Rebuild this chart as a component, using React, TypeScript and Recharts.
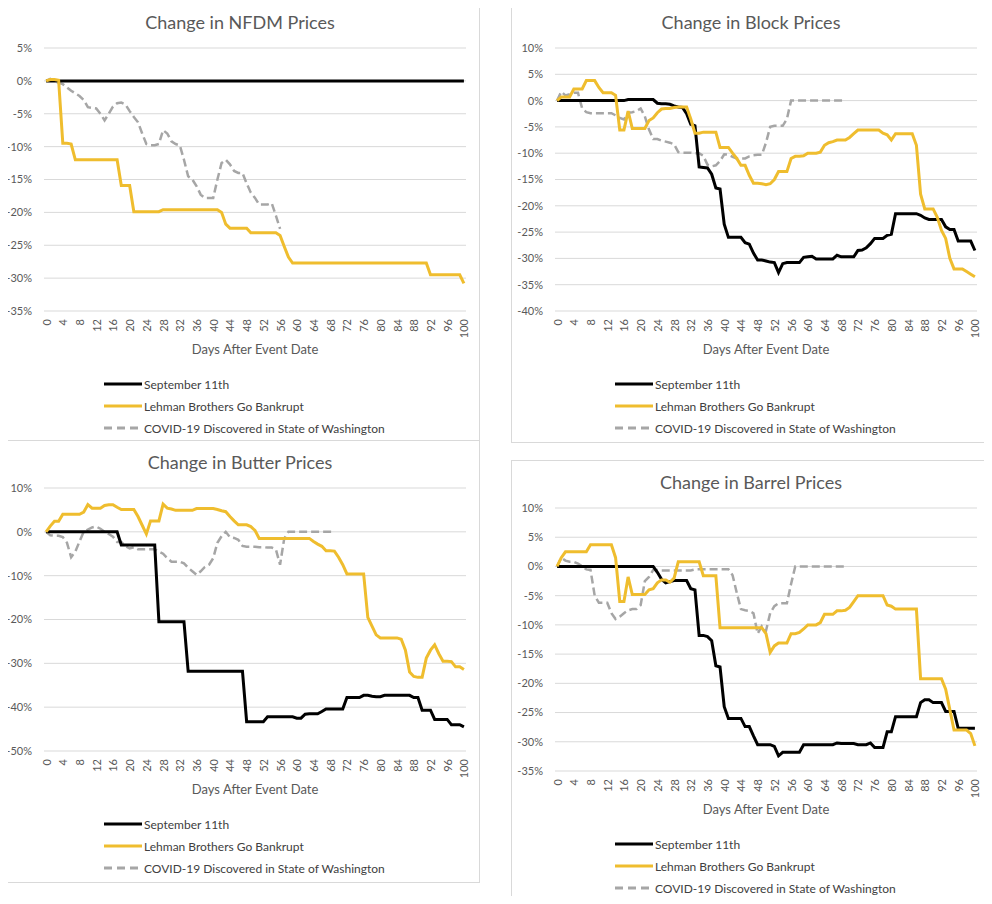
import React from 'react';
import { LineChart, Line, XAxis, YAxis, CartesianGrid, Legend, Label } from 'recharts';

const days = [0,1,2,3,4,5,6,7,8,9,10,11,12,13,14,15,16,17,18,19,20,21,22,23,24,25,26,27,28,29,30,31,32,33,34,35,36,37,38,39,40,41,42,43,44,45,46,47,48,49,50,51,52,53,54,55,56,57,58,59,60,61,62,63,64,65,66,67,68,69,70,71,72,73,74,75,76,77,78,79,80,81,82,83,84,85,86,87,88,89,90,91,92,93,94,95,96,97,98,99,100];
const xTicks = [0,4,8,12,16,20,24,28,32,36,40,44,48,52,56,60,64,68,72,76,80,84,88,92,96,100];
const seriesNames = ['September 11th', 'Lehman Brothers Go Bankrupt', 'COVID-19 Discovered in State of Washington'];
const seriesColors = ['#000000', '#EFBD2E', '#A6A6A6'];

// NFDM (% change)
const nfdmSep11 = [0,0,0,0,0,0,0,0,0,0,0,0,0,0,0,0,0,0,0,0,0,0,0,0,0,0,0,0,0,0,0,0,0,0,0,0,0,0,0,0,0,0,0,0,0,0,0,0,0,0,0,0,0,0,0,0,0,0,0,0,0,0,0,0,0,0,0,0,0,0,0,0,0,0,0,0,0,0,0,0,0,0,0,0,0,0,0,0,0,0,0,0,0,0,0,0,0,0,0,0,0];
const nfdmLehman = [0,0.2,0.2,0.1,-9.5,-9.5,-9.6,-12,-12,-12,-12,-12,-12,-12,-12,-12,-12,-12,-15.9,-15.9,-15.9,-19.9,-19.9,-19.9,-19.9,-19.9,-19.9,-19.9,-19.6,-19.6,-19.6,-19.6,-19.6,-19.6,-19.6,-19.6,-19.6,-19.6,-19.6,-19.6,-19.6,-19.6,-20,-21.8,-22.4,-22.4,-22.4,-22.4,-22.4,-23.1,-23.1,-23.1,-23.1,-23.1,-23.1,-23.1,-23.5,-25.2,-26.8,-27.7,-27.7,-27.7,-27.7,-27.7,-27.7,-27.7,-27.7,-27.7,-27.7,-27.7,-27.7,-27.7,-27.7,-27.7,-27.7,-27.7,-27.7,-27.7,-27.7,-27.7,-27.7,-27.7,-27.7,-27.7,-27.7,-27.7,-27.7,-27.7,-27.7,-27.7,-27.7,-27.7,-29.5,-29.5,-29.5,-29.5,-29.5,-29.5,-29.5,-29.5,-30.8];
const nfdmCovid = [0,0.3,0,-0.3,-0.5,-1.0,-1.5,-1.9,-2.3,-2.9,-4.0,-4.1,-4.2,-5.0,-6.0,-5.0,-3.9,-3.4,-3.3,-3.6,-4.6,-5.5,-6.3,-8.0,-9.6,-9.8,-9.8,-9.6,-7.5,-8.0,-9.2,-9.6,-9.8,-12.0,-14.5,-15.0,-16.0,-17.3,-17.8,-17.8,-17.8,-15.0,-12.5,-12.0,-12.7,-13.7,-14.0,-14.0,-15.6,-17.0,-17.8,-18.8,-18.8,-18.8,-18.6,-20.5,-22.5];

// Block
const blockSep11 = [0,0,0,0,0,0,0,0,0,0,0,0,0,0,0,0,0,0.2,0.2,0.2,0.2,0.2,0.2,0.2,-0.5,-0.6,-0.6,-0.7,-1.0,-1.2,-1.3,-2.5,-4.5,-4.8,-12.6,-12.7,-12.8,-14.0,-16.6,-16.8,-23.5,-26.0,-26.0,-26.0,-26.0,-27.0,-27.3,-29.0,-30.3,-30.3,-30.5,-30.7,-30.8,-32.7,-31.0,-30.8,-30.8,-30.8,-30.8,-29.8,-29.7,-29.6,-30.1,-30.1,-30.1,-30.1,-30.1,-29.4,-29.7,-29.7,-29.7,-29.7,-28.5,-28.4,-28.0,-27.2,-26.2,-26.2,-26.2,-25.6,-25.4,-21.5,-21.5,-21.5,-21.5,-21.5,-21.5,-21.8,-22.3,-22.6,-22.6,-22.6,-22.6,-24.0,-24.5,-24.5,-26.7,-26.7,-26.7,-26.7,-28.5];
const blockLehman = [0,0.7,0.7,0.7,2.2,2.2,2.2,3.8,3.8,3.8,2.5,1.5,1.5,1.5,1.0,-5.6,-5.6,-2.0,-5.3,-5.3,-5.3,-5.3,-3.8,-3.3,-2.3,-1.6,-1.5,-1.5,-1.3,-1.2,-1.2,-1.2,-3.5,-6.2,-6.2,-6.0,-6.0,-6.0,-6.0,-8.9,-8.9,-8.9,-10.0,-11.0,-12.3,-12.3,-14.2,-15.7,-15.7,-15.8,-16.0,-15.8,-15.0,-13.5,-13.5,-13.5,-11.0,-10.6,-10.6,-10.5,-10.0,-10.0,-10.0,-9.8,-8.5,-8.0,-7.8,-7.5,-7.5,-7.5,-7.0,-6.3,-5.6,-5.6,-5.6,-5.6,-5.6,-5.6,-6.2,-6.5,-7.5,-6.3,-6.3,-6.3,-6.3,-6.3,-8.5,-17.8,-20.6,-20.6,-20.6,-22.2,-24.7,-26.2,-30.0,-32.0,-32.0,-32.0,-32.5,-33.0,-33.5];
const blockCovid = [0,1.7,1.0,1.2,1.5,1.5,-1.5,-2.2,-2.4,-2.4,-2.4,-2.4,-2.4,-2.4,-2.8,-3.3,-3.6,-2.3,-2.2,-2.0,-1.5,-3.0,-5.5,-7.3,-7.3,-7.6,-7.8,-8.0,-8.3,-9.8,-9.9,-9.9,-9.9,-10.0,-10.0,-10.5,-12.2,-12.5,-12.3,-11.5,-10.2,-10.3,-10.7,-11.0,-11.0,-11.0,-10.6,-10.4,-10.3,-10.3,-8.0,-5.0,-4.8,-4.8,-4.8,-3.5,0,0,0,0,0,0,0,0,0,0,0,0,0,0];

// Butter
const butterSep11 = [0,0,0,0,0,0,0,0,0,0,0,0,0,0,0,0,0,0,-3.0,-3.0,-3.0,-3.0,-3.0,-3.0,-3.0,-3.0,-3.0,-20.5,-20.5,-20.5,-20.5,-20.5,-20.5,-20.5,-31.8,-31.8,-31.8,-31.8,-31.8,-31.8,-31.8,-31.8,-31.8,-31.8,-31.8,-31.8,-31.8,-31.8,-43.3,-43.3,-43.3,-43.3,-43.3,-42.2,-42.2,-42.2,-42.2,-42.2,-42.2,-42.2,-42.5,-42.5,-41.6,-41.5,-41.5,-41.5,-41.0,-40.4,-40.4,-40.4,-40.4,-40.4,-37.8,-37.8,-37.8,-37.8,-37.3,-37.3,-37.5,-37.6,-37.6,-37.3,-37.3,-37.3,-37.3,-37.3,-37.3,-37.3,-37.8,-37.8,-40.7,-40.7,-40.7,-42.8,-42.8,-42.8,-42.8,-44.0,-44.0,-44.0,-44.5];
const butterLehman = [0,1.3,2.4,2.4,4.0,4.0,4.0,4.0,4.0,4.5,6.2,5.4,5.4,5.4,6.0,6.2,6.2,5.6,5.1,5.1,5.1,5.1,3.5,1.5,-0.5,2.5,2.5,2.5,6.3,5.4,5.2,4.9,4.9,4.9,4.9,4.9,5.3,5.3,5.3,5.3,5.3,5.1,4.8,4.6,3.5,2.5,1.6,1.6,1.6,1.2,0.3,-1.5,-1.5,-1.5,-1.5,-1.5,-1.5,-1.5,-1.5,-1.5,-1.5,-1.5,-1.5,-1.5,-2.2,-2.8,-3.3,-4.3,-4.3,-4.4,-5.8,-7.5,-9.6,-9.6,-9.6,-9.6,-9.6,-19.5,-21.5,-23.5,-24.2,-24.2,-24.2,-24.2,-24.2,-24.5,-27.0,-32.0,-33.0,-33.2,-33.2,-28.8,-27.0,-25.8,-27.8,-29.5,-29.5,-29.6,-30.8,-30.8,-31.4];
const butterCovid = [0,-0.8,-0.9,-0.9,-1.2,-2.5,-5.8,-4.5,-2.2,0,0.5,1.0,1.2,0.7,0,-0.5,-1.1,-2.3,-2.3,-3.3,-3.8,-3.5,-4.0,-4.0,-4.0,-4.0,-4.0,-4.5,-5.0,-6.0,-6.8,-6.8,-6.8,-7.2,-8.2,-9.0,-9.8,-9.0,-8.0,-7.5,-6.0,-2.5,-1.0,0,-1.2,-1.4,-1.8,-3.2,-3.4,-3.4,-3.4,-3.5,-3.5,-3.6,-3.6,-4.0,-7.5,-1.5,0,0,0,0,0,0,0,0,0,0,0,0];

// Barrel
const barrelSep11 = [0,0,0,0,0,0,0,0,0,0,0,0,0,0,0,0,0,0,0,0,0,0,0,0,-1.0,-2.2,-2.8,-2.6,-2.4,-2.4,-2.4,-2.4,-3.8,-4.0,-11.8,-11.8,-12.0,-12.7,-17.0,-17.2,-24.0,-26.0,-26.0,-26.0,-26.0,-27.4,-27.4,-29.0,-30.5,-30.5,-30.5,-30.5,-30.8,-32.4,-31.8,-31.8,-31.8,-31.8,-31.8,-30.5,-30.5,-30.5,-30.5,-30.5,-30.5,-30.5,-30.5,-30.2,-30.3,-30.3,-30.3,-30.3,-30.5,-30.5,-30.5,-30.2,-31.0,-31.0,-31.0,-28.3,-28.3,-25.7,-25.7,-25.7,-25.7,-25.7,-25.7,-23.3,-22.8,-22.8,-23.3,-23.3,-23.3,-24.8,-24.8,-24.8,-27.7,-27.7,-27.7,-27.7,-27.7];
const barrelLehman = [0,1.5,2.5,2.5,2.5,2.5,2.5,2.5,3.7,3.7,3.7,3.7,3.7,3.7,1.5,-6.0,-6.0,-1.8,-4.8,-4.8,-4.8,-4.8,-4.0,-3.8,-2.8,-2.3,-2.3,-2.7,-2.0,0.8,0.8,0.8,0.8,0.8,0.8,-1.6,-1.6,-1.6,-1.6,-10.5,-10.5,-10.5,-10.5,-10.5,-10.5,-10.5,-10.5,-10.5,-10.5,-10.5,-11.5,-14.7,-13.6,-13.1,-13.1,-13.1,-11.5,-11.5,-11.3,-10.7,-10.0,-10.0,-10.0,-9.6,-8.2,-8.2,-8.2,-7.6,-7.6,-7.5,-7.0,-6.0,-5.0,-5.0,-5.0,-5.0,-5.0,-5.0,-5.0,-6.6,-6.8,-7.3,-7.3,-7.3,-7.3,-7.3,-7.3,-19.2,-19.2,-19.2,-19.2,-19.2,-19.2,-21.0,-24.5,-28.0,-28.0,-28.0,-28.0,-28.6,-30.7];
const barrelCovid = [0,1.5,1.0,0.8,0.8,0.5,0,-0.5,-0.6,-5.0,-6.2,-6.2,-6.2,-8.0,-9.0,-8.6,-8.0,-7.5,-7.3,-7.3,-6.6,-2.5,-1.8,-0.6,-0.6,-0.7,-0.7,-0.7,-0.7,-0.7,-0.7,-0.7,-0.7,-0.5,-0.5,-0.5,-0.5,-0.5,-0.5,-0.5,-0.5,-0.5,-1.5,-4.5,-7.3,-7.5,-7.6,-8.0,-11.5,-10.2,-11.0,-8.0,-6.8,-6.3,-6.3,-6.3,-3.0,0,0,0,0,0,0,0,0,0,0,0,0,0];

const nfdmYTicks = [5,0,-5,-10,-15,-20,-25,-30,-35];
const blockYTicks = [10,5,0,-5,-10,-15,-20,-25,-30,-35,-40];
const butterYTicks = [10,0,-10,-20,-30,-40,-50];
const barrelYTicks = [10,5,0,-5,-10,-15,-20,-25,-30,-35];

const FONT = 'Lato, "Open Sans", sans-serif';

function buildRows(a: number[], b: number[], c: number[]) {
  return days.map((d, i) => ({
    day: d,
    sep11: a[i] ?? null,
    lehman: b[i] ?? null,
    covid: c[i] ?? null,
  }));
}

const RotTick = (props: any) => {
  const { x, y, payload } = props;
  return (
    <text x={x} y={y} transform={`rotate(-90, ${x}, ${y})`} textAnchor="end" dominantBaseline="central"
      fontSize={11} fill="#595959" fontFamily={FONT}>{payload.value}</text>
  );
};

const renderLegend = () => (
  <div style={{ paddingLeft: 103, fontFamily: FONT }}>
    {seriesNames.map((n, i) => (
      <div key={n} style={{ height: 22, display: 'flex', alignItems: 'center' }}>
        <svg width={38} height={8} style={{ display: 'block' }}>
          <line x1={0} y1={4} x2={38} y2={4} stroke={seriesColors[i]} strokeWidth={3}
            strokeDasharray={i === 2 ? '8 5' : undefined} />
        </svg>
        <span style={{ marginLeft: 2, fontSize: 12, color: '#404040', whiteSpace: 'nowrap' }}>{n}</span>
      </div>
    ))}
  </div>
);

type PanelProps = {
  title: string; left: number; top: number;
  a: number[]; b: number[]; c: number[];
  yTicks: number[];
};

function Panel({ title, left, top, a, b, c, yTicks }: PanelProps) {
  const data = buildRows(a, b, c);
  const yMax = yTicks[0];
  const yMin = yTicks[yTicks.length - 1];
  return (
    <div style={{ position: 'absolute', left, top, width: 480, height: 443, border: '1px solid #d9d9d9', boxSizing: 'border-box', background: '#fff' }}>
      <div style={{ position: 'absolute', left: 0, top: 10, width: 478, textAlign: 'center', fontSize: 18, lineHeight: '22px', color: '#595959', fontFamily: FONT }}>{title}</div>
      <div style={{ position: 'absolute', left: 0, top: 0 }}>
        <LineChart width={478} height={441} data={data} margin={{ top: 47, right: 13, bottom: 3, left: 0 }}>
          <CartesianGrid vertical={false} stroke="#d9d9d9" strokeWidth={1} />
          <XAxis dataKey="day" type="number" domain={[-0.5, 100.5]} ticks={xTicks} interval={0}
            tickLine={false} axisLine={false} height={62} tick={<RotTick />} allowDataOverflow>
            <Label value="Days After Event Date" position="insideBottom" offset={19}
              style={{ fontSize: 13, fill: '#595959', fontFamily: FONT }} />
          </XAxis>
          <YAxis type="number" domain={[yMin, yMax]} ticks={yTicks} interval={0} width={43}
            tickLine={false} axisLine={false} tickMargin={6}
            tick={{ fontSize: 11, fill: '#595959', fontFamily: FONT }}
            tickFormatter={(v: number) => `${v}%`} allowDataOverflow />
          <Legend verticalAlign="bottom" align="left" content={renderLegend} />
          <Line dataKey="covid" name={seriesNames[2]} stroke={seriesColors[2]} strokeWidth={2.5}
            strokeDasharray="8 4" dot={false} isAnimationActive={false} type="linear" />
          <Line dataKey="sep11" name={seriesNames[0]} stroke={seriesColors[0]} strokeWidth={3}
            dot={false} isAnimationActive={false} type="linear" />
          <Line dataKey="lehman" name={seriesNames[1]} stroke={seriesColors[1]} strokeWidth={3}
            dot={false} isAnimationActive={false} type="linear" />
        </LineChart>
      </div>
    </div>
  );
}

export default function App() {
  return (
    <div style={{ position: 'relative', width: 992, height: 904, margin: -8, background: '#fff' }}>
      <Panel title="Change in NFDM Prices" left={0} top={0} a={nfdmSep11} b={nfdmLehman} c={nfdmCovid} yTicks={nfdmYTicks} />
      <Panel title="Change in Block Prices" left={511} top={0} a={blockSep11} b={blockLehman} c={blockCovid} yTicks={blockYTicks} />
      <Panel title="Change in Butter Prices" left={0} top={440} a={butterSep11} b={butterLehman} c={butterCovid} yTicks={butterYTicks} />
      <Panel title="Change in Barrel Prices" left={511} top={460} a={barrelSep11} b={barrelLehman} c={barrelCovid} yTicks={barrelYTicks} />
    </div>
  );
}
